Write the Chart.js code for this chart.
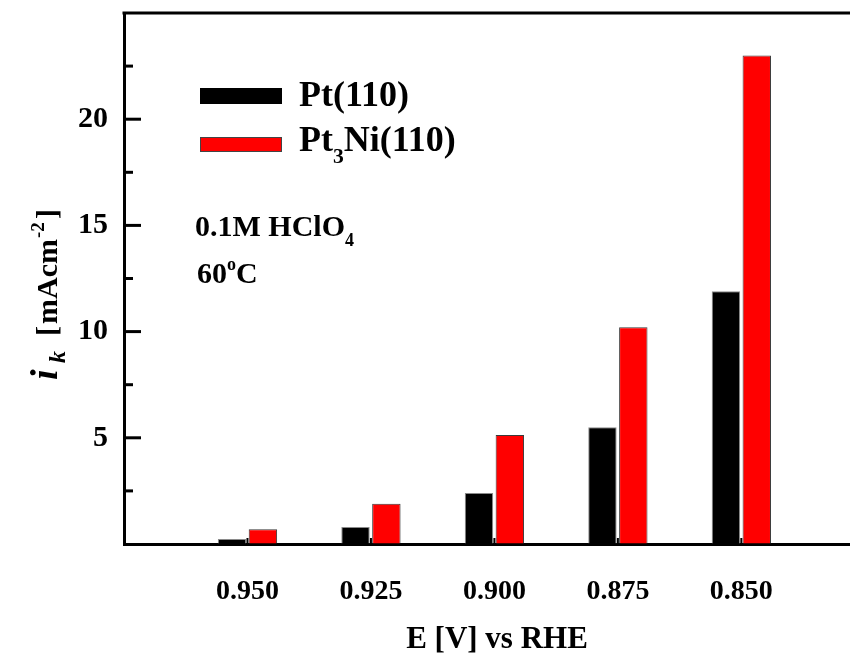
<!DOCTYPE html>
<html lang="en">
<head>
<meta charset="UTF-8">
<title>ik vs E</title>
<script src="https://cdn.jsdelivr.net/npm/chart.js"></script>
<style>
  body { margin: 0; background: #fff; overflow: hidden; }
</style>
</head>
<body>
<canvas id="myChart" width="850" height="654"></canvas>
<script>
// data
const xPos = [1, 2, 3, 4, 5];
const xLabels = ['0.950', '0.925', '0.900', '0.875', '0.850'];
const pt110 = [0.24, 0.8, 2.4, 5.5, 11.9];
const pt3ni110 = [0.7, 1.9, 5.13, 10.2, 23.0];
const yMax = 25;
const xMax = 5.88;

const FONT = "'Liberation Serif', 'Times New Roman', serif";

function setFont(ctx, m, size) {
  const small = m.includes('sub') || m.includes('sup');
  ctx.font = (m.startsWith('i') ? 'italic ' : '') + 'bold ' + (small ? size * 0.6 : size) + 'px ' + FONT;
}

function richWidth(ctx, parts, size) {
  let w = 0;
  parts.forEach(([t, m]) => {
    setFont(ctx, m, size);
    w += ctx.measureText(t).width;
  });
  return w;
}

function rich(ctx, x, y, parts, size) {
  let cx = x;
  parts.forEach(([t, m]) => {
    setFont(ctx, m, size);
    const dy = m.includes('sub') ? size * 0.32 : (m.includes('sup') ? -size * 0.42 : 0);
    ctx.fillText(t, cx, y + dy);
    cx += ctx.measureText(t).width;
  });
}

const legendParts = [
  [['Pt(110)', '']],
  [['Pt', ''], ['3', 'sub'], ['Ni(110)', '']]
];

const decor = {
  id: 'decor',
  afterDraw(chart) {
    const { ctx, chartArea: a, scales: { x, y } } = chart;
    ctx.save();
    ctx.strokeStyle = '#000';
    ctx.fillStyle = '#000';
    ctx.lineCap = 'butt';

    // top frame line
    ctx.lineWidth = 3;
    ctx.beginPath();
    ctx.moveTo(a.left - 1.5, a.top);
    ctx.lineTo(a.right, a.top);
    ctx.stroke();

    // inward y ticks
    y.ticks.forEach(t => {
      if (t.value <= 0 || t.value >= yMax) return;
      const p = y.getPixelForValue(t.value);
      const len = t.value % 5 === 0 ? 17 : 9;
      ctx.beginPath();
      ctx.moveTo(a.left, p);
      ctx.lineTo(a.left + len, p);
      ctx.stroke();
    });

    // small x ticks
    ctx.lineWidth = 2;
    x.ticks.forEach(t => {
      const p = x.getPixelForValue(t.value);
      ctx.beginPath();
      ctx.moveTo(p, a.bottom);
      ctx.lineTo(p, a.bottom - 6);
      ctx.stroke();
    });

    // legend
    ctx.textBaseline = 'alphabetic';
    ctx.textAlign = 'left';
    const boxes = [[88, 16], [137, 15]];
    chart.data.datasets.forEach((ds, i) => {
      ctx.fillStyle = ds.backgroundColor;
      ctx.fillRect(200, boxes[i][0], 82, boxes[i][1]);
      if (i === 1) {
        ctx.lineWidth = 1;
        ctx.strokeStyle = '#444';
        ctx.strokeRect(200.5, boxes[i][0] + 0.5, 81, boxes[i][1] - 1);
      }
      ctx.fillStyle = '#000';
      rich(ctx, 299, i === 0 ? 106 : 151, legendParts[i], 36);
    });

    // annotations
    rich(ctx, 195, 236, [['0.1M HClO', ''], ['4', 'sub']], 30);
    rich(ctx, 197, 283, [['60', ''], ['o', 'sup'], ['C', '']], 30);

    // x title
    const xt = [['E [V] vs RHE', '']];
    rich(ctx, 497 - richWidth(ctx, xt, 31) / 2, 648, xt, 31);

    // y title, read upwards
    ctx.translate(57, 380);
    ctx.rotate(-Math.PI / 2);
    ctx.font = 'italic bold 38px ' + FONT;
    ctx.fillText('i', 0, 0);
    ctx.font = 'italic bold 24px ' + FONT;
    ctx.fillText('k', 17, 8);
    ctx.font = 'bold 30px ' + FONT;
    ctx.fillText('[', 44, 0);
    ctx.fillText('mAcm', 56, 0);
    ctx.font = 'bold 19px ' + FONT;
    ctx.fillText('-2', 142, -13);
    ctx.font = 'bold 30px ' + FONT;
    ctx.fillText(']', 161, 0);

    ctx.restore();
  }
};

const ctx = document.getElementById('myChart');
const chart = new Chart(ctx, {
  type: 'bar',
  data: {
    datasets: [{
      label: 'Pt(110)',
      data: xPos.map((v, i) => ({ x: v, y: pt110[i] })),
      backgroundColor: '#000000',
      borderColor: '#8a8a8a',
      borderWidth: 1,
      categoryPercentage: 0.5,
      barPercentage: 0.92
    }, {
      label: 'Pt3Ni(110)',
      data: xPos.map((v, i) => ({ x: v, y: pt3ni110[i] })),
      backgroundColor: '#ff0000',
      borderColor: '#3a3a3a',
      borderWidth: 1,
      categoryPercentage: 0.5,
      barPercentage: 0.92
    }]
  },
  options: {
    responsive: false,
    animation: false,
    devicePixelRatio: 1,
    layout: { padding: { top: 13, right: 0, left: 0, bottom: 0 } },
    plugins: {
      legend: { display: false },
      tooltip: { enabled: false }
    },
    scales: {
      x: {
        type: 'linear',
        offset: false,
        min: 0,
        max: xMax,
        afterFit: s => { s.height = 110; s.paddingLeft = 0; s.paddingRight = 0; },
        afterBuildTicks: s => { s.ticks = xPos.map(v => ({ value: v })); },
        grid: { display: true, offset: false, drawOnChartArea: false, drawTicks: false },
        border: { display: true, color: '#000', width: 3 },
        ticks: {
          padding: 31,
          color: '#000',
          maxRotation: 0,
          font: { family: FONT, size: 28, weight: 'bold' },
          callback: v => xLabels[v - 1] || ''
        }
      },
      y: {
        min: 0,
        max: yMax,
        afterFit: s => { s.width = 124; s.paddingTop = 0; s.paddingBottom = 0; },
        grid: { display: true, drawOnChartArea: false, drawTicks: false },
        border: { display: true, color: '#000', width: 3 },
        ticks: {
          stepSize: 2.5,
          padding: 16,
          color: '#000',
          font: { family: FONT, size: 30, weight: 'bold' },
          callback: v => (v % 5 === 0 && v > 0 && v < yMax) ? v : ''
        }
      }
    }
  },
  plugins: [decor]
});
</script>
</body>
</html>
